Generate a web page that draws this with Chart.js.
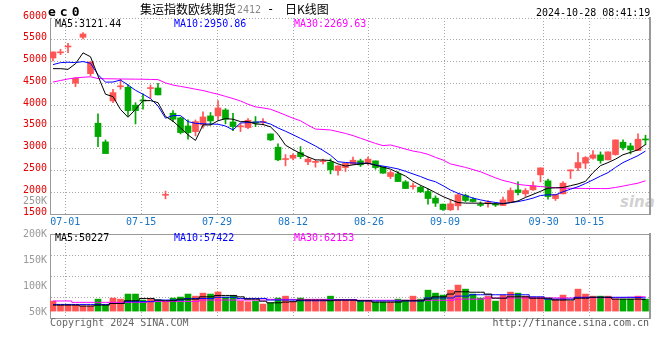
<!DOCTYPE html>
<html><head><meta charset="utf-8">
<script src="https://cdn.jsdelivr.net/npm/chart.js@4.4.1/dist/chart.umd.min.js"></script>
<style>
html,body{margin:0;padding:0;background:#fff;}
#wrap{position:relative;width:660px;height:360px;overflow:hidden;font-family:"DejaVu Sans Mono",monospace;font-size:10px;color:#000;}
canvas{position:absolute;left:0;top:0;}
.t{position:absolute;white-space:pre;line-height:12px;height:12px;}
.cjk{font-family:"Noto Sans CJK SC",sans-serif;font-size:12px;line-height:14px;height:14px;}
</style></head><body>
<div id="wrap">
<div class="t" style="left:620px;top:194px;font:italic bold 15px 'DejaVu Sans',sans-serif;color:rgba(150,150,150,0.45);line-height:16px;height:16px">sina</div>
<canvas id="cMain" width="660" height="360"></canvas>
<canvas id="cVol" width="660" height="360"></canvas>
<div class="t" style="left:48px;top:5px;font-weight:bold;font-size:13px;letter-spacing:4px;line-height:14px;height:14px">ec0</div>
<div class="t cjk" style="left:140px;top:2px">集运指数欧线期货</div>
<div class="t" style="left:237px;top:4px;color:#888">2412</div>
<div class="t" style="left:267px;top:3px;font-size:12px">-</div>
<div class="t cjk" style="left:285px;top:2px">日K线图</div>
<div class="t" style="left:536px;top:7px">2024-10-28 08:41:19</div>
<div class="t" id="pma0" style="left:55px;top:18px;color:#000"></div>
<div class="t" id="pma1" style="left:174px;top:18px;color:#0000ff"></div>
<div class="t" id="pma2" style="left:294px;top:18px;color:#ff00ff"></div>
<div class="t" style="right:613px;top:195px;color:#999">250K</div>
<div class="t" id="vma0" style="left:55px;top:232px;color:#000"></div>
<div class="t" id="vma1" style="left:174px;top:232px;color:#0000ff"></div>
<div class="t" id="vma2" style="left:294px;top:232px;color:#ff00ff"></div>
<div class="t" style="left:50px;top:317px;color:#666">Copyright 2024 SINA.COM</div>
<div class="t" style="right:11px;top:317px;color:#555">http://finance.sina.com.cn</div>
</div>
<script>
// ---------------- DATA ----------------
const dates = [
'06-27','06-28','07-01','07-02','07-03','07-04','07-05','07-08','07-09','07-10',
'07-11','07-12','07-15','07-16','07-17','07-18','07-19','07-22','07-23','07-24',
'07-25','07-26','07-29','07-30','07-31','08-01','08-02','08-05','08-06','08-07',
'08-08','08-09','08-12','08-13','08-14','08-15','08-16','08-19','08-20','08-21',
'08-22','08-23','08-26','08-27','08-28','08-29','08-30','09-02','09-03','09-04',
'09-05','09-06','09-09','09-10','09-11','09-12','09-13','09-18','09-19','09-20',
'09-23','09-24','09-25','09-26','09-27','09-30','10-08','10-09','10-10','10-11',
'10-14','10-15','10-16','10-17','10-18','10-21','10-22','10-23','10-24','10-25'];
const tickDates = ['07-01','07-15','07-29','08-12','08-26','09-09','09-30','10-15'];
const priceTicks = [1500,2000,2500,3000,3500,4000,4500,5000,5500,6000];
const volTickValues = [50000,100000,150000,200000];
const volTickLabels = ['50K','100K','150K','200K'];

const open = [
5082,5200,5335,4502,5557,4722,3584,3155,4096,4420,
4410,4000,4110,4380,4394,1930,3814,3706,3522,3392,
3545,3752,3752,3889,3614,3500,3484,3614,3605,3339,
3034,2750,2781,2910,2697,2685,2700,2690,2497,2566,
2643,2720,2666,2720,2575,2360,2421,2238,2125,2116,
2016,1864,1726,1596,1687,1925,1841,1708,1750,1715,
1695,1786,2054,1963,2054,2398,2261,1855,1963,2490,
2559,2666,2781,2857,2743,2864,3148,3064,2956,3215];
const high = [
5225,5282,5420,4630,5663,5000,3798,3200,4364,4594,
4463,4057,4257,4463,4502,2025,3874,3722,3660,3660,
3844,3830,4103,3920,3814,3584,3690,3737,3690,3339,
3110,2864,2880,3048,2804,2743,2759,2765,2605,2666,
2804,2759,2804,2720,2575,2497,2475,2268,2208,2146,
2070,1917,1726,1825,1963,1955,1871,1779,1810,1764,
1887,2100,2238,2085,2238,2559,2299,1947,2245,2513,
2910,2819,2956,2926,2926,3201,3201,3125,3339,3309];
const low = [
5014,5158,5204,4424,5518,4676,3048,2887,4057,4364,
3760,3568,3906,4158,4234,1848,3620,3339,3217,3293,
3470,3545,3660,3570,3415,3392,3461,3507,3545,3186,
2727,2605,2743,2773,2635,2575,2651,2421,2391,2475,
2643,2590,2628,2528,2437,2314,2245,2085,2070,1993,
1726,1672,1580,1580,1596,1779,1779,1672,1657,1672,
1690,1786,1940,1901,2039,2238,1841,1810,1963,2314,
2497,2543,2759,2666,2743,2849,2972,2880,2956,3087];
const close = [
5220,5215,5345,4617,5633,4991,3277,2887,4287,4435,
3874,3874,4095,4395,4234,1950,3676,3369,3369,3621,
3729,3637,3935,3676,3507,3515,3653,3584,3620,3201,
2743,2768,2849,2818,2759,2695,2712,2513,2605,2666,
2735,2628,2759,2566,2437,2452,2245,2085,2140,2008,
1855,1749,1603,1733,1940,1810,1786,1698,1762,1705,
1825,2039,1993,2039,2146,2559,1901,1947,2208,2505,
2681,2796,2857,2727,2926,3201,3025,2972,3217,3200];

const ma5 = [
4837,4837,4821,4950,5200,5110,4670,4250,4195,3900,
3722,3900,4103,4103,4057,3740,3630,3480,3316,3190,
3545,3545,3640,3690,3676,3621,3621,3568,3555,3500,
3330,3080,2980,2890,2810,2743,2740,2727,2650,2600,
2628,2650,2666,2620,2575,2530,2450,2370,2250,2160,
2080,1990,1900,1830,1762,1750,1749,1749,1740,1734,
1734,1765,1800,1880,1950,2020,2095,2100,2108,2150,
2190,2250,2450,2610,2680,2760,2860,2915,2975,3095];
const ma10 = [
4930,4975,4985,4975,5000,4960,4700,4527,4530,4575,
4463,4340,4250,4150,3980,3700,3760,3760,3620,3582,
3570,3565,3561,3520,3431,3590,3598,3610,3615,3565,
3475,3400,3320,3235,3150,3060,2960,2850,2700,2683,
2672,2666,2665,2625,2600,2570,2535,2480,2420,2360,
2290,2240,2150,2050,1975,1920,1865,1825,1790,1765,
1740,1760,1785,1820,1865,1925,1940,1940,2010,2070,
2125,2200,2284,2370,2450,2570,2680,2760,2840,2945];
const ma30 = [
4530,4565,4600,4625,4640,4650,4610,4605,4603,4600,
4598,4596,4594,4590,4585,4510,4460,4430,4400,4365,
4335,4290,4250,4200,4150,4095,4020,3960,3935,3905,
3840,3770,3700,3640,3540,3450,3440,3430,3390,3350,
3300,3240,3180,3120,3070,3085,3040,2990,2945,2915,
2870,2800,2740,2650,2610,2570,2520,2470,2400,2330,
2270,2230,2180,2160,2145,2130,2115,2105,2095,2090,
2088,2086,2085,2084,2084,2110,2140,2175,2208,2262];

const volume = [
43500,26000,26000,26000,23000,23000,52000,27500,56500,52000,
74000,74000,48000,52000,48000,40500,56500,61000,74000,65000,
78000,74000,83000,61000,65000,43500,40500,43500,30500,36000,
56500,65000,40500,56500,48000,48000,48000,65000,48000,48000,
48000,43500,43500,39000,39000,39000,52000,48000,65000,52000,
91000,78000,69500,91000,113000,95500,74000,56500,65000,43500,
69500,82500,78000,65000,61000,61000,52000,52000,69500,43500,
95500,74000,65000,65000,65000,52000,52000,52000,65000,52000];
const vma5 = [
26000,26000,26000,26000,22000,22000,26000,26000,33000,33000,
45000,45000,55000,55000,48000,45000,45000,52000,52000,52000,
62000,62000,68000,68000,68000,62000,52000,52000,43000,36000,
36000,39000,41000,48000,48000,48000,48000,45000,48000,48000,
48000,45000,45000,39000,39000,39000,39000,45000,45000,45000,
52000,62000,62000,74000,84000,84000,82000,82000,74000,56000,
56000,62000,62000,62000,56000,56000,56000,48000,48000,48000,
56000,56000,60000,60000,60000,52000,52000,52000,52000,50000];
const vma10 = [
29000,29000,29000,29000,29000,29000,29000,29000,33000,33000,
41000,41000,41000,41000,48000,48000,48000,48000,55000,55000,
55000,55000,60000,60000,60000,55000,55000,55000,55000,48000,
48000,48000,48000,45000,45000,45000,45000,48000,48000,48000,
48000,44000,44000,44000,44000,44000,44000,44000,44000,44000,
57000,57000,57000,57000,65000,65000,71000,71000,71000,71000,
71000,71000,71000,71000,62000,62000,52000,52000,52000,52000,
60000,60000,60000,60000,60000,60000,60000,60000,59000,57000];
const vma30 = [
44000,44000,44000,38000,38000,38000,38000,38000,38000,38000,
38000,38000,38000,42000,42000,42000,42000,42000,42000,42000,
48000,48000,48000,48000,48000,48000,48000,48000,48000,51000,
51000,51000,51000,51000,51000,51000,51000,50000,50000,50000,
50000,47000,47000,47000,47000,47000,47000,47000,47000,47000,
47000,47000,47000,47000,52000,52000,52000,52000,57000,57000,
57000,57000,57000,57000,57000,57000,57000,57000,57000,57000,
58000,58000,58000,58000,58000,58000,59000,60000,61000,62000];

const maNames = ['MA5','MA10','MA30'];
const priceMaLast = ['3121.44','2950.86','2269.63'];
const volMaLast = ['50227','57422','62153'];

// ---------------- RENDER ----------------
maNames.forEach((n,k)=>{
  document.getElementById('pma'+k).textContent = n+':'+priceMaLast[k];
  document.getElementById('vma'+k).textContent = n+':'+volMaLast[k];
});

const H = 360;
Chart.defaults.font.family = "'DejaVu Sans Mono', monospace";
Chart.defaults.font.size = 10;
const UP = '#ff5555', DOWN = '#00a800';
const MA_COLORS = ['#000000','#0000ff','#ff00ff'];
const candleColors = dates.map((d,i)=> close[i] >= open[i] ? UP : DOWN);
const pts = arr => arr.map((v,i)=>({x:i,y:v}));
const dateTickIdx = tickDates.map(d=>dates.indexOf(d));
const GRID = '#a8a8a8', BORDER = '#999';

function idxAxis(){
  return {type:'linear', display:false, offset:false, grid:{offset:false},
          min:-0.4, max:dates.length-0.4};
}
function dateAxis(showLabels, bottomPx){
  return {type:'linear', position:'bottom', offset:false, min:0, max:dates.length-1,
    afterBuildTicks: s => { s.ticks = dateTickIdx.map(v=>({value:v})); },
    afterFit: s => { s.height = H - bottomPx; },
    grid: {color:GRID, drawTicks:false, lineWidth:1, offset:false},
    border: {display:true, color:BORDER, width:1, dash:[1,2]},
    ticks: {display:showLabels, color:'#1874c4', padding:2, maxRotation:0, autoSkip:false,
            callback: v => dates[v] ?? ''}
  };
}
function rightBorder(){
  return {type:'linear', position:'right', min:0, max:1, afterFit: s=>{s.width=0;},
    grid:{display:false, drawTicks:false}, ticks:{display:false},
    border:{display:true, color:BORDER, width:2}};
}
function maLine(arr,k,stepped){
  return {type:'line', data:pts(arr), borderColor:MA_COLORS[k], borderWidth:1, pointRadius:0,
    tension:0, stepped:stepped, xAxisID:'x', yAxisID: stepped ? 'yv' : 'y', order:0};
}

new Chart(document.getElementById('cMain'), {
  type:'bar',
  data:{datasets:[
    maLine(ma5,0,false), maLine(ma10,1,false), maLine(ma30,2,false),
    {label:'wick', data: dates.map((d,i)=>({x:i, y:[low[i], high[i]]})), backgroundColor:candleColors,
     barThickness:1, grouped:false, xAxisID:'x', yAxisID:'y', order:2},
    {label:'body', data: dates.map((d,i)=>({x:i, y:[open[i], close[i]]})), backgroundColor:candleColors,
     barThickness:6, minBarLength:1, grouped:false, xAxisID:'x', yAxisID:'y', order:1}
  ]},
  options:{
    responsive:false, animation:false, events:[],
    layout:{padding:{top:18, right:10, left:0, bottom:0}},
    plugins:{legend:{display:false}, tooltip:{enabled:false}},
    scales:{
      x: idxAxis(),
      xg: dateAxis(true, 214),
      y: {type:'linear', position:'left', min:priceTicks[0], max:priceTicks[priceTicks.length-1],
          afterBuildTicks: s => { s.ticks = priceTicks.map(v=>({value:v})); },
          afterFit: s => { s.width = 50; },
          grid:{color:GRID, drawTicks:false, lineWidth:1},
          border:{display:true, color:BORDER, width:1, dash:[1,2]},
          ticks:{color:'#e60000', padding:3, labelOffset:-2, callback: v => String(v)}},
      yr: rightBorder()
    }
  }
});

new Chart(document.getElementById('cVol'), {
  type:'bar',
  data:{datasets:[
    maLine(vma5,0,'middle'), maLine(vma10,1,'middle'), maLine(vma30,2,'middle'),
    {label:'vol', data: pts(volume), backgroundColor:candleColors, barThickness:6, grouped:false,
     xAxisID:'x', yAxisID:'yv', order:1}
  ]},
  options:{
    responsive:false, animation:false, events:[],
    layout:{padding:{top:234, right:10, left:0, bottom:0}},
    plugins:{legend:{display:false}, tooltip:{enabled:false}},
    scales:{
      x: idxAxis(),
      xg: dateAxis(false, 318),
      xt: {type:'linear', position:'top', min:0, max:1, offset:false, afterFit: s=>{s.height=0;},
           grid:{display:false, drawTicks:false, offset:false}, ticks:{display:false},
           border:{display:true, color:BORDER, width:1}},
      yv: {type:'linear', position:'left', weight:0, min:-30000, max:335000,
           afterBuildTicks: s => { s.ticks = [0,1,2,3,4].map(k=>({value: s.min + k*(s.max-s.min)/4})); },
           afterFit: s => { s.width = 0; },
           grid:{color:GRID, drawTicks:false, lineWidth:1},
           border:{display:true, color:BORDER, width:1, dash:[1,2]},
           ticks:{display:false}},
      yl: {type:'linear', position:'left', weight:1, min:40000, max:200000,
           afterBuildTicks: s => { s.ticks = volTickValues.map(v=>({value:v})); },
           afterFit: s => { s.width = 50; },
           grid:{display:false, drawTicks:false},
           border:{display:false},
           ticks:{color:'#999', padding:3, callback: (v,i) => volTickLabels[i]}},
      yr: rightBorder()
    }
  }
});
</script>
</body></html>
